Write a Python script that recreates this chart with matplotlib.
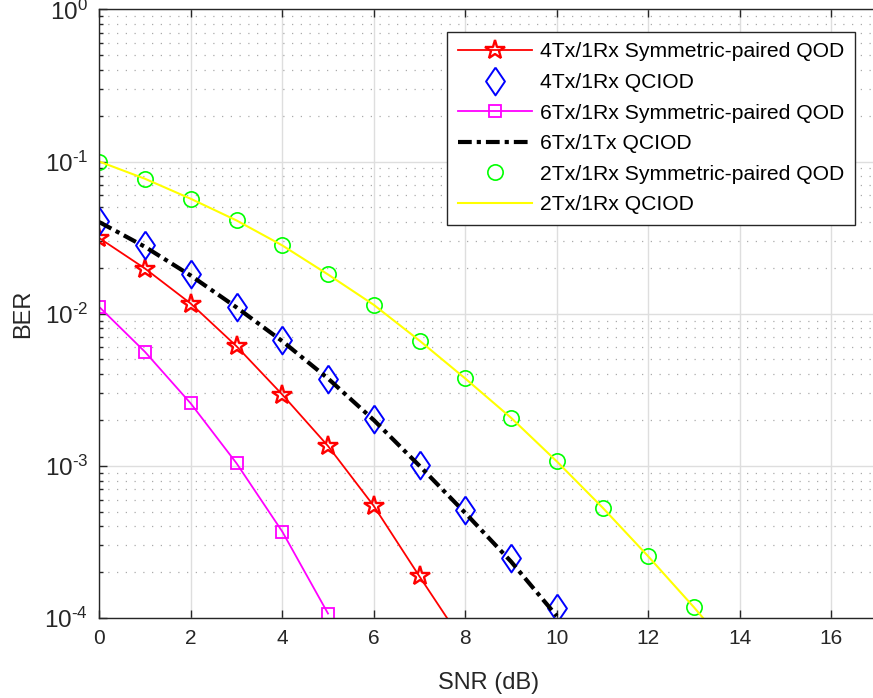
import matplotlib

matplotlib.use("Agg")

import matplotlib.pyplot as plt
from matplotlib.ticker import LogLocator, NullFormatter, MultipleLocator, FuncFormatter
import numpy as np

plt.rcParams["font.family"] = ["Liberation Sans", "DejaVu Sans"]
plt.rcParams["mathtext.fontset"] = "custom"
plt.rcParams["mathtext.rm"] = "Liberation Sans"
plt.rcParams["mathtext.it"] = "Liberation Sans"
plt.rcParams["mathtext.bf"] = "Liberation Sans"

# SNR values (dB)
snr_4tx = [0, 1, 2, 3, 4, 5, 6, 7, 8]
snr_4tx_qciod = [0, 1, 2, 3, 4, 5, 6, 7, 8, 9, 10]
snr_6tx = [0, 1, 2, 3, 4, 5]
snr_2tx = [0, 1, 2, 3, 4, 5, 6, 7, 8, 9, 10, 11, 12, 13, 14]

# BER
ber_4tx_sp = [0.0314, 0.0198, 0.01165, 0.00611, 0.00294, 0.00135,
              0.000545, 0.0001875, 0.000066]
ber_4tx_qciod = [0.0404, 0.0284, 0.0181, 0.01107, 0.00669, 0.0037,
                 0.00202, 0.00101, 0.000513, 0.000247, 0.0001156]
ber_6tx_sp = [0.01107, 0.00561, 0.00257, 0.00104, 0.00037, 0.000107]
ber_6tx_qciod = [0.0400, 0.0275, 0.0178, 0.0110, 0.0066, 0.00375,
                 0.00200, 0.00100, 0.00049, 0.000235, 0.000103]
ber_2tx_sp = [0.1, 0.077, 0.0569, 0.041, 0.0281, 0.0181, 0.01143, 0.00665,
              0.00375, 0.00207, 0.00107, 0.000532, 0.000254, 0.0001175,
              0.000052]
ber_2tx_qciod = ber_2tx_sp

labels = [
    "4Tx/1Rx Symmetric-paired QOD",
    "4Tx/1Rx QCIOD",
    "6Tx/1Rx Symmetric-paired QOD",
    "6Tx/1Tx QCIOD",
    "2Tx/1Rx Symmetric-paired QOD",
    "2Tx/1Rx QCIOD",
]

# diamond a bit wider than matplotlib's thin diamond
diamond = [(0, 1), (0.68, 0), (0, -1), (-0.68, 0), (0, 1)]

fig = plt.figure(figsize=(8.73, 6.98), dpi=100)
ax = fig.add_axes([0.1137, 0.1146, 0.8909, 0.872])

ax.plot(snr_4tx, ber_4tx_sp, color="red", lw=1.3, marker="*", ms=15,
        mfc="none", mew=1.7, label=labels[0])
ax.plot(snr_4tx_qciod, ber_4tx_qciod, color="blue", ls="none", marker=diamond,
        ms=20, mfc="none", mew=1.4, label=labels[1])
ax.plot(snr_6tx, ber_6tx_sp, color="magenta", lw=1.3, marker="s", ms=8,
        mfc="none", mew=1.3, label=labels[2])
ax.plot(snr_4tx_qciod, ber_6tx_qciod, color="black", lw=3,
        ls=(0, (3.3, 1.2, 1.0, 1.2)), label=labels[3])
ax.plot(snr_2tx, ber_2tx_sp, color="#00ff00", ls="none", marker="o", ms=11,
        mfc="none", mew=1.2, label=labels[4])
ax.plot(snr_2tx, ber_2tx_qciod, color="yellow", lw=1.5, label=labels[5])

ax.set_yscale("log")
ax.set_xlim(0, 17)
ax.set_ylim(1e-4, 1)
ax.xaxis.set_major_locator(MultipleLocator(2))
ax.yaxis.set_major_locator(LogLocator(base=10, numticks=10))
ax.yaxis.set_minor_locator(LogLocator(base=10, subs=range(2, 10), numticks=10))
ax.yaxis.set_minor_formatter(NullFormatter())


def pow10(v, pos):
    e = int(round(np.log10(v)))
    if e < 0:
        return r"$10^{\text{-}%d}$" % (-e)
    return r"$10^{%d}$" % e


ax.yaxis.set_major_formatter(FuncFormatter(pow10))

ax.grid(True, which="major", color="#dedede", lw=1.0, ls="-")
ax.grid(True, which="minor", axis="y", color="#aaaaaa", lw=0.9,
        ls=(0, (1, 6)))
ax.set_axisbelow(True)

tc = "#262626"
ax.tick_params(which="both", direction="in", top=True, right=False,
               colors=tc, labelsize=15, width=1.0)
ax.tick_params(axis="y", labelsize=17.5)
ax.tick_params(which="major", length=6, pad=8)
ax.tick_params(which="minor", length=3)
for side in ("left", "bottom", "top"):
    ax.spines[side].set_color(tc)
    ax.spines[side].set_linewidth(1.0)
ax.spines["right"].set_visible(False)

ax.set_xlabel("SNR (dB)", fontsize=17, color=tc, labelpad=17)
ax.set_ylabel("BER", fontsize=17, color=tc, labelpad=7)

leg = ax.legend(loc="upper right", bbox_to_anchor=(0.9717, 0.963),
                fontsize=15.2, frameon=True, fancybox=False,
                edgecolor=tc, framealpha=1, handlelength=3.5,
                borderpad=0.5, labelspacing=0.55, handletextpad=0.4,
                borderaxespad=0)
leg.get_frame().set_linewidth(1.0)

fig.savefig("out.png", dpi=100)
